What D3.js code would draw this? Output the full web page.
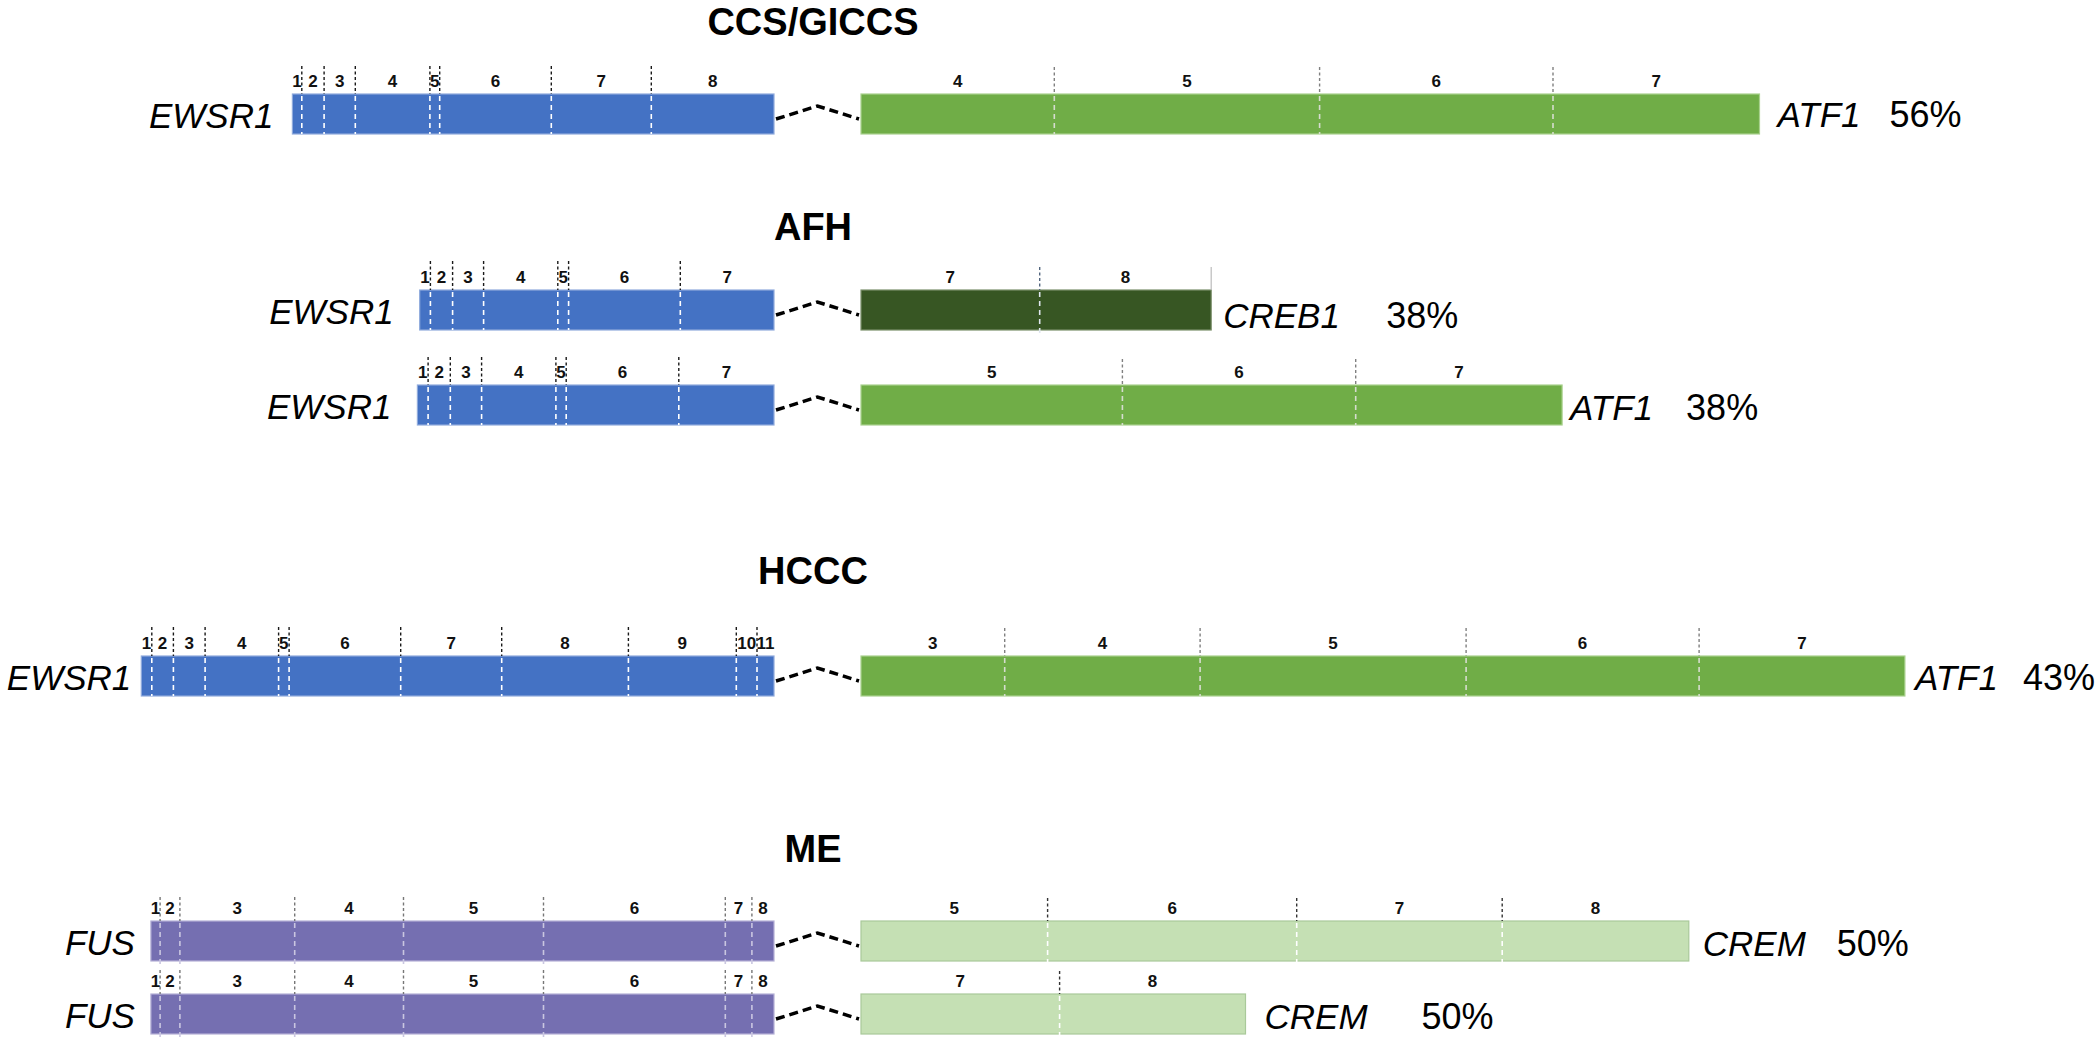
<!DOCTYPE html>
<html><head><meta charset="utf-8">
<script src="https://cdn.jsdelivr.net/npm/d3@7"></script>
<style>body{margin:0;background:#fff} svg{display:block}</style>
</head><body><svg id="c" width="2100" height="1040"></svg>
<script>
// ---------- data ----------
const groupTitles = ["CCS/GICCS", "AFH", "HCCC", "ME"];
const rowGroup = [0, 1, 1, 2, 3, 3];
const fivePrimeGenes = ["EWSR1", "EWSR1", "EWSR1", "EWSR1", "FUS", "FUS"];
const threePrimeGenes = ["ATF1", "CREB1", "ATF1", "ATF1", "CREM", "CREM"];
const percents = ["56%", "38%", "38%", "43%", "50%", "50%"];
const fiveExonNumbers = [
  [1, 2, 3, 4, 5, 6, 7, 8],
  [1, 2, 3, 4, 5, 6, 7],
  [1, 2, 3, 4, 5, 6, 7],
  [1, 2, 3, 4, 5, 6, 7, 8, 9, 10, 11],
  [1, 2, 3, 4, 5, 6, 7, 8],
  [1, 2, 3, 4, 5, 6, 7, 8]
];
const fiveExonLengths = [
  [9.4, 22.3, 31.2, 74.6, 9.8, 111.6, 100, 122.7],
  [10.7, 22.2, 31.0, 74.2, 10.8, 111.7, 93.7],
  [10.7, 22.2, 31.3, 74.3, 10.3, 112.6, 95.2],
  [10.5, 21.6, 31.7, 73.5, 10.5, 111.6, 101, 126.7, 107.9, 20.7, 17],
  [9.2, 19.8, 114.8, 108.8, 140, 181.8, 26.6, 22.1],
  [9.2, 19.8, 114.8, 108.8, 140, 181.8, 26.6, 22.1]
];
const threeExonNumbers = [
  [4, 5, 6, 7],
  [7, 8],
  [5, 6, 7],
  [3, 4, 5, 6, 7],
  [5, 6, 7, 8],
  [7, 8]
];
const threeExonLengths = [
  [193.3, 265.3, 233.4, 206.5],
  [178.7, 171.5],
  [261.4, 233.3, 206.4],
  [143.7, 195.4, 266, 233, 205.8],
  [186.6, 249.1, 205.5, 186.6],
  [198.6, 185.9]
];

// ---------- layout / styles ----------
const rowBarTop = [94, 290, 385, 656, 921, 994];
const titleBaseline = [35, 240, 584, 862];
const leftGap = [19, 26, 26, 10, 16, 16];
const geneGap = [18, 12, 8, 10, 14, 19];
const pctOffset = [130, 175, 124, 118, 148, 176];
const rightDy = [33, 38, 35, 34, 35, 35];
const aboveLen5 = [28, 29, 28, 29, 24, 24];
const aboveLen3 = [27, 23, 26, 28, 23, 23];
const barH = 40;
const geneColor = {EWSR1: "#4472C4", FUS: "#756FB1", ATF1: "#70AD47", CREB1: "#375623", CREM: "#C5E0B4"};
const geneStroke = {EWSR1: "#8FAADC", FUS: "#B4B0D6", ATF1: "#A9D18E", CREB1: "#7a8f6a", CREM: "#A9C99A"};
const aboveColor = {EWSR1: "#1a1a1a", FUS: "#777", ATF1: "#808080", CREB1: "#52657e", CREM: "#333"};
const insideColor = {EWSR1: "#ffffff", FUS: "#c9c6e0", ATF1: "#d6dccf", CREB1: "#dfe6ee", CREM: "#ffffff"};
const FONT = "'Liberation Sans', Arial, Helvetica, sans-serif";

const svg = d3.select("#c");
const x5 = d3.scaleLinear().domain([-700, 0]).range([74, 774]);
const x3 = d3.scaleLinear().domain([0, 1200]).range([861, 2061]);

// titles
groupTitles.forEach((t, g) => {
  svg.append("text").attr("x", 813).attr("y", titleBaseline[g])
    .attr("text-anchor", "middle").attr("font-family", FONT)
    .attr("font-weight", "bold").attr("font-size", 38).attr("fill", "#000").text(t);
});

function exonSpans(lengths, nums, fromEnd) {
  const total = d3.sum(lengths);
  let acc = fromEnd ? -total : 0;
  return lengths.map((len, j) => { const s = acc; acc += len; return {num: nums[j], s, e: acc}; });
}

fivePrimeGenes.forEach((g5, i) => {
  const top = rowBarTop[i];
  const g3 = threePrimeGenes[i];
  const row = svg.append("g");

  // 5' partner
  const ex5 = exonSpans(fiveExonLengths[i], fiveExonNumbers[i], true);
  const start5 = ex5[0].s;
  row.append("rect").attr("x", x5(start5)).attr("y", top)
    .attr("width", x5(0) - x5(start5)).attr("height", barH)
    .attr("fill", geneColor[g5]).attr("stroke", geneStroke[g5]).attr("stroke-width", 1.2);
  ex5.slice(0, -1).forEach(d => {
    const xx = x5(d.e);
    row.append("line").attr("x1", xx).attr("x2", xx).attr("y1", top - aboveLen5[i]).attr("y2", top)
      .attr("stroke", aboveColor[g5]).attr("stroke-width", 1.4).attr("stroke-dasharray", "3,2.5");
    row.append("line").attr("x1", xx).attr("x2", xx).attr("y1", top + 2).attr("y2", top + barH + (g5 === "FUS" ? 6 : 0))
      .attr("stroke", insideColor[g5]).attr("stroke-width", 1.6).attr("stroke-dasharray", "5,4");
  });
  ex5.forEach(d => {
    row.append("text").attr("x", x5((d.s + d.e) / 2)).attr("y", top - 7)
      .attr("text-anchor", "middle").attr("font-family", FONT).attr("font-weight", "bold")
      .attr("font-size", 17).attr("fill", "#111").text(d.num);
  });
  row.append("text").attr("x", x5(start5) - leftGap[i]).attr("y", top + 34)
    .attr("text-anchor", "end").attr("font-family", FONT).attr("font-style", "italic")
    .attr("font-size", 35).attr("fill", "#000").text(g5);

  // 3' partner
  const ex3 = exonSpans(threeExonLengths[i], threeExonNumbers[i], false);
  const end3 = ex3[ex3.length - 1].e;
  row.append("rect").attr("x", x3(0)).attr("y", top)
    .attr("width", x3(end3) - x3(0)).attr("height", barH)
    .attr("fill", geneColor[g3]).attr("stroke", geneStroke[g3]).attr("stroke-width", 1.2);
  ex3.slice(0, -1).forEach(d => {
    const xx = x3(d.e);
    row.append("line").attr("x1", xx).attr("x2", xx).attr("y1", top - aboveLen3[i]).attr("y2", top)
      .attr("stroke", aboveColor[g3]).attr("stroke-width", 1.4).attr("stroke-dasharray", "3,2.5");
    row.append("line").attr("x1", xx).attr("x2", xx).attr("y1", top + 2).attr("y2", top + barH + (g3 === "ATF1" ? 0 : 5))
      .attr("stroke", insideColor[g3]).attr("stroke-width", 1.6).attr("stroke-dasharray", "5,4");
  });
  if (g3 === "CREB1") {
    row.append("line").attr("x1", x3(end3)).attr("x2", x3(end3)).attr("y1", top - aboveLen3[i]).attr("y2", top)
      .attr("stroke", "#bbb").attr("stroke-width", 1.2);
  }
  ex3.forEach(d => {
    row.append("text").attr("x", x3((d.s + d.e) / 2)).attr("y", top - 7)
      .attr("text-anchor", "middle").attr("font-family", FONT).attr("font-weight", "bold")
      .attr("font-size", 17).attr("fill", "#111").text(d.num);
  });
  row.append("text").attr("x", x3(end3) + geneGap[i]).attr("y", top + rightDy[i])
    .attr("font-family", FONT).attr("font-style", "italic")
    .attr("font-size", 35).attr("fill", "#000").text(g3);
  row.append("text").attr("x", x3(end3) + pctOffset[i]).attr("y", top + rightDy[i])
    .attr("font-family", FONT).attr("font-size", 36).attr("fill", "#000").text(percents[i]);

  // junction connector
  const mid = (x5(0) + x3(0)) / 2;
  const line = d3.line();
  row.append("path")
    .attr("d", line([[x5(0) + 2, top + 25], [mid, top + 12], [x3(0) - 2, top + 25]]))
    .attr("fill", "none").attr("stroke", "#000").attr("stroke-width", 3.5)
    .attr("stroke-dasharray", "9,5");
});
</script>
</body></html>
